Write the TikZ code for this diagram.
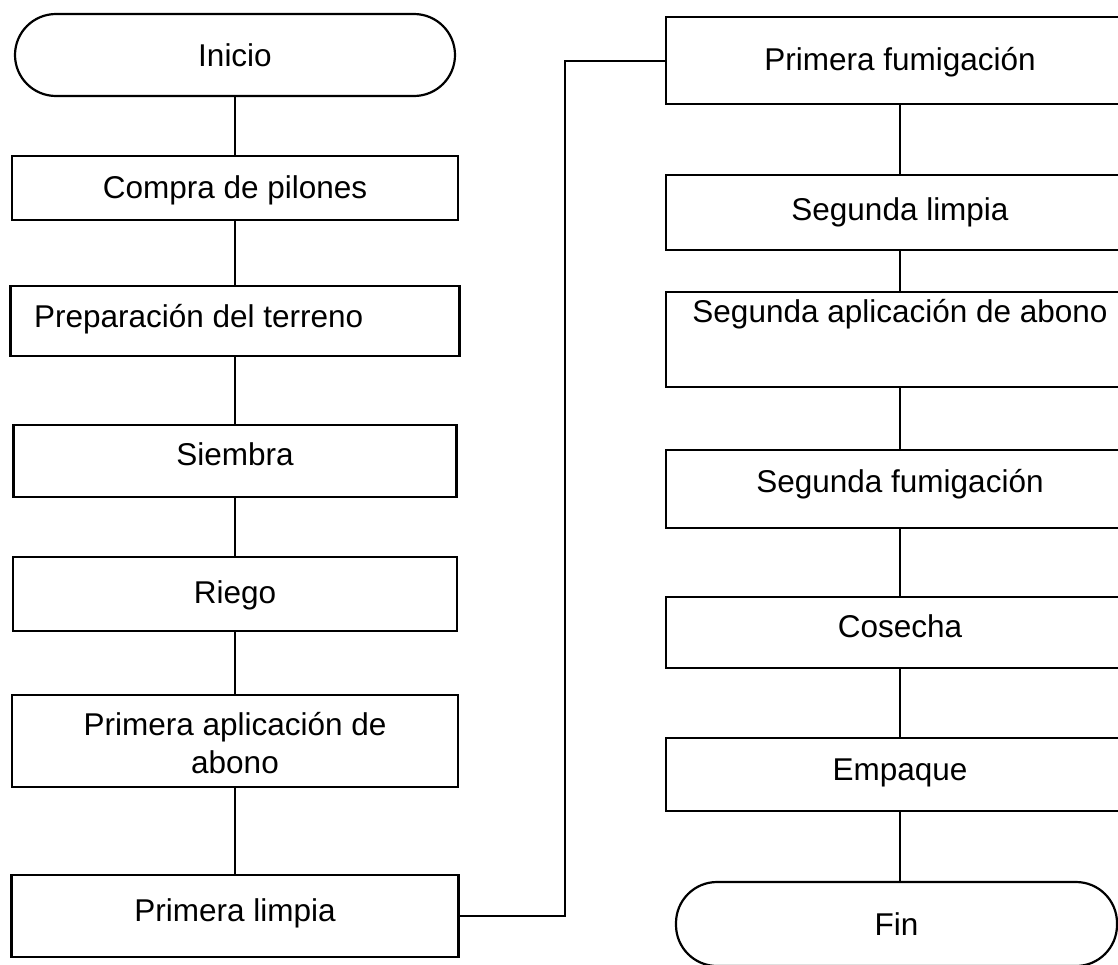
\documentclass[tikz,border=0pt]{standalone}
\usepackage{fontspec}
\setmainfont{Liberation Sans}
\begin{document}
\begin{tikzpicture}[x=1pt,y=-1pt,
  line width=2.2pt,
  box/.style={draw=black, rectangle, inner sep=0pt},
  term/.style={draw=black, rectangle, rounded corners=41pt, inner sep=0pt},
  lbl/.style={font=\fontsize{31.5}{38}\selectfont, inner sep=0pt, anchor=base, align=center},
  conn/.style={draw=black, line width=2pt}
]
\useasboundingbox (0,0) rectangle (1118,964);
\fill[white] (0,0) rectangle (1118,964);
\clip (0,0) rectangle (1118,964);

% left column
\node[term, minimum width=440pt, minimum height=82pt] (ini) at (235,55) {};
\node[lbl] (tini) at (235,66) {Inicio};
\node[box, minimum width=446pt, minimum height=64pt] (cp) at (235,188) {};
\node[lbl] (tcp) at (235,198) {Compra de pilones};
\node[box, minimum width=449pt, minimum height=70pt] (pt) at (235,321) {};
\node[lbl, anchor=base west] (tpt) at (33,327) {Preparación del terreno};
\node[box, minimum width=443pt, minimum height=72pt] (si) at (235,461) {};
\node[lbl] (tsi) at (235,465) {Siembra};
\node[box, minimum width=444pt, minimum height=74pt] (ri) at (235,594) {};
\node[lbl] (tri) at (235,603) {Riego};
\node[box, minimum width=446pt, minimum height=92pt] (pa) at (235,741) {};
\node[lbl] (tpa1) at (235,735) {Primera aplicación de};
\node[lbl] (tpa2) at (235,773) {abono};
\node[box, minimum width=447pt, minimum height=82pt] (pl) at (235,916) {};
\node[lbl] (tpl) at (235,921) {Primera limpia};

% right column
\node[box, minimum width=468pt, minimum height=87pt] (pf) at (900,60.5) {};
\node[lbl] (tpf) at (900,70) {Primera fumigación};
\node[box, minimum width=468pt, minimum height=75pt] (sl) at (900,212.5) {};
\node[lbl] (tsl) at (900,220) {Segunda limpia};
\node[box, minimum width=468pt, minimum height=95pt] (sa) at (900,339.5) {};
\node[lbl] (tsa) at (900,322) {Segunda aplicación de abono};
\node[box, minimum width=468pt, minimum height=78pt] (sf) at (900,489) {};
\node[lbl] (tsf) at (900,492) {Segunda fumigación};
\node[box, minimum width=468pt, minimum height=71pt] (co) at (900,632.5) {};
\node[lbl] (tco) at (900,637) {Cosecha};
\node[box, minimum width=468pt, minimum height=73pt] (em) at (900,774.5) {};
\node[lbl] (tem) at (900,780) {Empaque};
\node[term, minimum width=441pt, minimum height=84pt] (fin) at (896.5,924) {};
\node[lbl] (tfin) at (896.5,935) {Fin};

% connectors
\draw[conn] (ini.south) -- (cp.north);
\draw[conn] (cp.south) -- (pt.north);
\draw[conn] (pt.south) -- (si.north);
\draw[conn] (si.south) -- (ri.north);
\draw[conn] (ri.south) -- (pa.north);
\draw[conn] (pa.south) -- (pl.north);
\coordinate (jx) at (565,0);
\draw[conn] (pl.east) -- (pl.east -| jx) -- (pf.west -| jx) -- (pf.west);
\draw[conn] (pf.south) -- (sl.north);
\draw[conn] (sl.south) -- (sa.north);
\draw[conn] (sa.south) -- (sf.north);
\draw[conn] (sf.south) -- (co.north);
\draw[conn] (co.south) -- (em.north);
\draw[conn] (em.south) -- (em.south |- fin.north);
\end{tikzpicture}
\end{document}
